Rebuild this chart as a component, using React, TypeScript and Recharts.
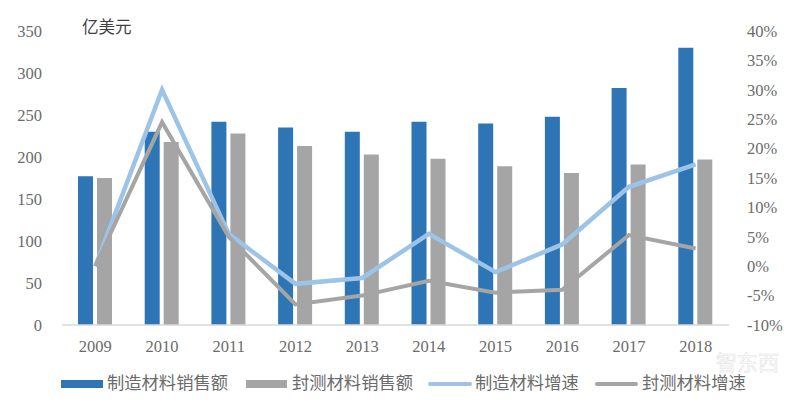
import React from 'react';
import { ComposedChart, Bar, Line, XAxis, YAxis, Legend } from 'recharts';

const years = ['2009', '2010', '2011', '2012', '2013', '2014', '2015', '2016', '2017', '2018'];
const manufacturingSales = [177, 230, 242, 235, 230, 242, 240, 248, 282, 330];
const packagingSales = [175, 218, 228, 213, 203, 198, 189, 181, 191, 197];
const manufacturingGrowth = [0, 30, 5.5, -3, -2, 5.5, -1, 3.7, 13.5, 17.3];
const packagingGrowth = [0, 24.5, 5, -6.5, -5, -2.5, -4.5, -4, 5.3, 3];
const leftTicks = [0, 50, 100, 150, 200, 250, 300, 350];
const rightTicks = [-10, -5, 0, 5, 10, 15, 20, 25, 30, 35, 40];

const data = years.map((year, i) => ({
  year,
  manufacturingSales: manufacturingSales[i],
  packagingSales: packagingSales[i],
  manufacturingGrowth: manufacturingGrowth[i],
  packagingGrowth: packagingGrowth[i],
}));

const FONT = '"Liberation Serif", "Noto Sans CJK SC", serif';
const TEXT = '#6b6b6b';
const tick = { fontSize: 16.5, fill: TEXT, fontFamily: FONT };

// x of each legend swatch and its width, left to right
const legendSlots = [
  { x: 61, w: 42, gap: 4 },
  { x: 246, w: 41, gap: 5 },
  { x: 428, w: 44, gap: 3 },
  { x: 595, w: 43, gap: 4 },
];

const renderLegend = ({ payload }: any) => {
  const order = ['manufacturingSales', 'packagingSales', 'manufacturingGrowth', 'packagingGrowth'];
  const items = order.map((key) => (payload || []).find((p: any) => p.dataKey === key)).filter(Boolean);
  return (
    <div style={{ position: 'relative', width: 800, height: 24, fontFamily: FONT, fontSize: 17.3, color: TEXT }}>
      {items.map((item: any, i: number) => {
        const slot = legendSlots[i];
        const isLine = i > 1;
        return (
          <React.Fragment key={item.dataKey}>
            <div
              style={{
                position: 'absolute',
                left: slot.x,
                top: isLine ? 10 : 8,
                width: slot.w,
                height: isLine ? 4 : 8,
                borderRadius: isLine ? 2 : 0,
                background: item.color,
              }}
            />
            <div style={{ position: 'absolute', left: slot.x + slot.w + slot.gap, top: 0, lineHeight: '24px', whiteSpace: 'nowrap' }}>
              {item.value}
            </div>
          </React.Fragment>
        );
      })}
    </div>
  );
};

export default function App() {
  return (
    <div style={{ position: 'absolute', left: 0, top: 0, width: 800, height: 403, background: '#fff', overflow: 'hidden' }}>
      <ComposedChart
        width={800}
        height={403}
        data={data}
        barSize={15}
        barGap={4}
        margin={{ top: 31, right: 0, bottom: 0, left: 0 }}
      >
        <XAxis
          dataKey="year"
          height={54}
          axisLine={{ stroke: '#d9d9d9', strokeWidth: 1.5 }}
          tickLine={false}
          tick={tick}
          tickMargin={9}
          interval={0}
        />
        <YAxis
          yAxisId="left"
          width={62}
          domain={[0, 350]}
          ticks={leftTicks}
          axisLine={false}
          tickLine={false}
          tick={tick}
          tickMargin={14}
          interval={0}
        />
        <YAxis
          yAxisId="right"
          orientation="right"
          width={71}
          domain={[-10, 40]}
          ticks={rightTicks}
          tickFormatter={(v: number) => `${v}%`}
          axisLine={false}
          tickLine={false}
          tick={tick}
          tickMargin={12}
          interval={0}
        />
        <Bar yAxisId="left" dataKey="manufacturingSales" name="制造材料销售额" fill="#2e75b6" isAnimationActive={false} />
        <Bar yAxisId="left" dataKey="packagingSales" name="封测材料销售额" fill="#a5a5a5" isAnimationActive={false} />
        <Line
          yAxisId="right"
          dataKey="manufacturingGrowth"
          name="制造材料增速"
          stroke="#9dc3e6"
          strokeWidth={4.5}
          dot={false}
          isAnimationActive={false}
        />
        <Line
          yAxisId="right"
          dataKey="packagingGrowth"
          name="封测材料增速"
          stroke="#a5a5a5"
          strokeWidth={4}
          dot={false}
          isAnimationActive={false}
        />
        <Legend
          content={renderLegend}
          verticalAlign="bottom"
          wrapperStyle={{ left: 0, top: 372, width: 800 }}
        />
      </ComposedChart>
      <div style={{ position: 'absolute', left: 82, top: 16, fontFamily: FONT, fontSize: 16.5, color: '#404040', lineHeight: '24px' }}>
        亿美元
      </div>
      <div
        style={{
          position: 'absolute',
          left: 716,
          top: 350,
          fontFamily: '"Noto Sans CJK SC", sans-serif',
          fontSize: 21,
          lineHeight: '22px',
          color: 'rgba(255,255,255,0.75)',
          WebkitTextStroke: '0.6px #e2e2e2',
        }}
      >
        智东西
      </div>
    </div>
  );
}
